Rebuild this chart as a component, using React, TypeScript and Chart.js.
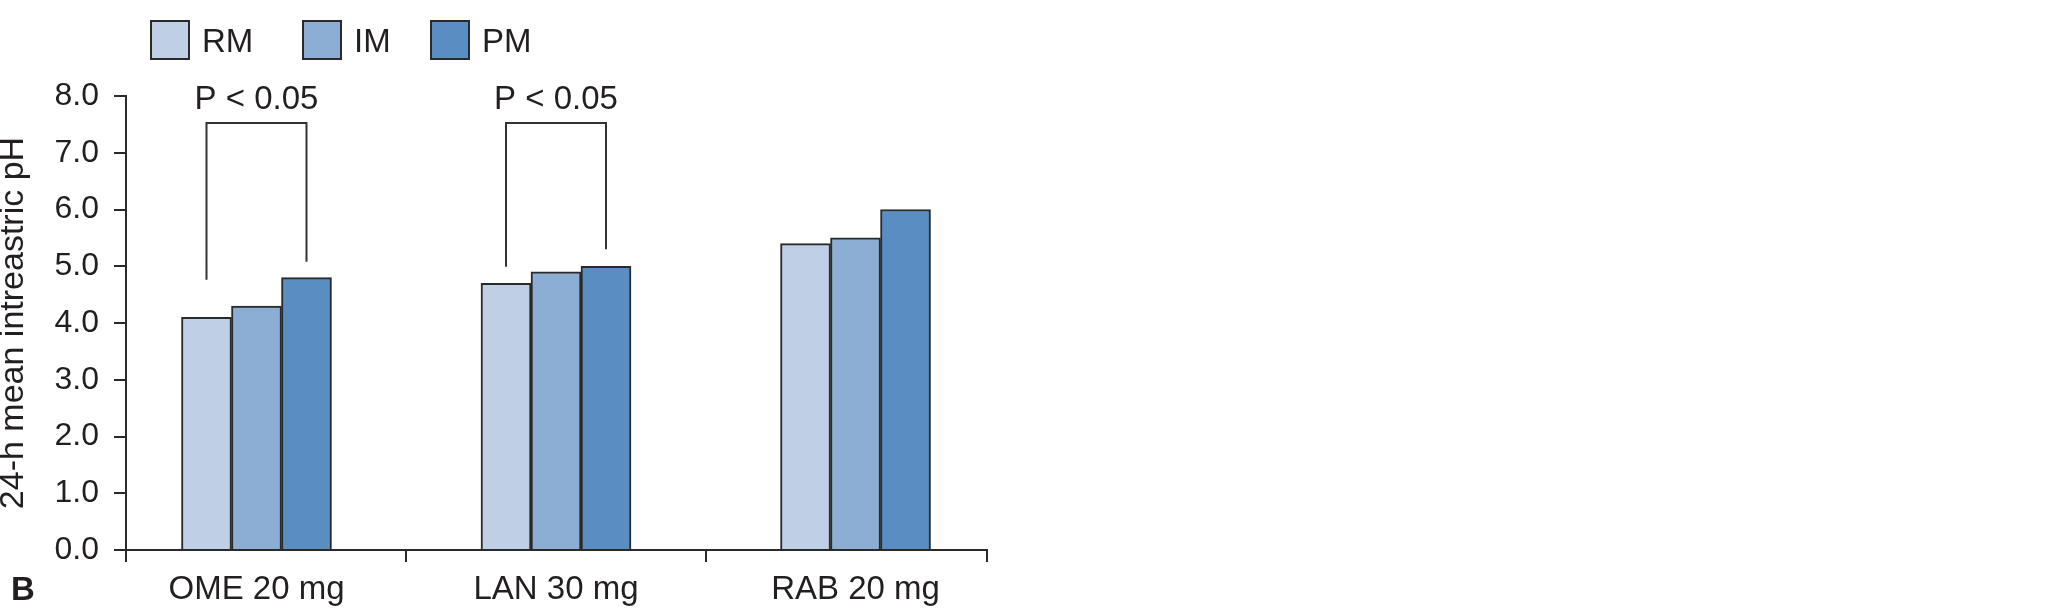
import React, { useEffect, useRef } from 'react';
import { Chart, registerables } from 'chart.js';

Chart.register(...registerables);

// ---- data ----
const categories = ['OME 20 mg', 'LAN 30 mg', 'RAB 20 mg'];
const seriesNames = ['RM', 'IM', 'PM'];
const rmValues = [4.1, 4.7, 5.4];
const imValues = [4.3, 4.9, 5.5];
const pmValues = [4.8, 5.0, 6.0];
const yMin = 0;
const yMax = 8;
const yStep = 1;
const yTitle = '24-h mean intreastric pH';
const panelLetter = 'B';

// significance brackets (in data units)
const bracketGroups = [0, 1];
const bracketLabels = ['P < 0.05', 'P < 0.05'];
const bracketTop = 7.53;
const bracketLeftEnds = [4.76, 4.99];
const bracketRightEnds = [5.08, 5.3];
const bracketTextY = 7.77;

// ---- styles ----
const seriesColors = ['#bfcfe6', '#8daed4', '#5a8ec2'];
const INK = '#231f20';
const FONT = "'Liberation Sans', Arial, Helvetica, sans-serif";
const X_MIN = -0.4357;
const X_MAX = 2.439;

const overlayPlugin = {
  id: 'overlay',
  afterDraw(chart: any) {
    const ctx = chart.ctx as CanvasRenderingContext2D;
    const ys = chart.scales.y;
    ctx.save();
    // brackets
    ctx.strokeStyle = '#333';
    ctx.lineWidth = 2;
    ctx.fillStyle = INK;
    ctx.font = `33px ${FONT}`;
    ctx.textAlign = 'center';
    ctx.textBaseline = 'alphabetic';
    bracketGroups.forEach((g, k) => {
      const xl = chart.getDatasetMeta(0).data[g].x;
      const xr = chart.getDatasetMeta(2).data[g].x;
      const yt = Math.round(ys.getPixelForValue(bracketTop));
      ctx.beginPath();
      ctx.moveTo(xl, ys.getPixelForValue(bracketLeftEnds[k]));
      ctx.lineTo(xl, yt);
      ctx.lineTo(xr, yt);
      ctx.lineTo(xr, ys.getPixelForValue(bracketRightEnds[k]));
      ctx.stroke();
      ctx.fillText(bracketLabels[k], (xl + xr) / 2, ys.getPixelForValue(bracketTextY));
    });

    // legend
    const boxX = [151, 303, 431];
    const boxY = 21;
    const boxS = 38;
    ctx.textAlign = 'left';
    chart.data.datasets.forEach((ds: any, i: number) => {
      ctx.fillStyle = ds.backgroundColor;
      ctx.fillRect(boxX[i], boxY, boxS, boxS);
      ctx.strokeStyle = '#2a2a2a';
      ctx.lineWidth = 2;
      ctx.strokeRect(boxX[i], boxY, boxS, boxS);
      ctx.fillStyle = INK;
      ctx.font = `33px ${FONT}`;
      ctx.fillText(ds.label, boxX[i] + 51, 52);
    });

    // panel letter
    ctx.font = `bold 33px ${FONT}`;
    ctx.fillStyle = INK;
    ctx.fillText(panelLetter, 11, 600);
    ctx.restore();
  },
};

export default function App() {
  const canvasRef = useRef<HTMLCanvasElement | null>(null);

  useEffect(() => {
    const canvas = canvasRef.current;
    if (!canvas) return;
    Chart.defaults.font.family = FONT;
    Chart.defaults.color = INK;

    const seriesValues = [rmValues, imValues, pmValues];
    const chart = new Chart(canvas, {
      type: 'bar',
      data: {
        datasets: seriesNames.map((name, i) => ({
          label: name,
          data: seriesValues[i].map((v, j) => ({ x: j, y: v })),
          backgroundColor: seriesColors[i],
          borderColor: '#2a2a2a',
          borderWidth: 2,
          barThickness: 50,
        })),
      },
      options: {
        responsive: false,
        animation: false,
        devicePixelRatio: 1,
        layout: { padding: { top: 96, right: 1085, bottom: 0, left: 0 } },
        plugins: { legend: { display: false }, tooltip: { enabled: false } },
        scales: {
          x: {
            type: 'linear',
            min: X_MIN,
            max: X_MAX,
            offset: false,
            afterBuildTicks: (scale: any) => {
              scale.ticks = [X_MIN, 0, 0.5, 1, 1.5, 2, X_MAX].map((v) => ({ value: v }));
            },
            afterFit: (scale: any) => {
              scale.height = 59;
            },
            grid: {
              offset: false,
              drawOnChartArea: false,
              drawTicks: true,
              tickLength: 12,
              lineWidth: 2,
              color: (c: any) =>
                c.tick && Number.isInteger(c.tick.value) ? 'rgba(0,0,0,0)' : '#2a2a2a',
            },
            border: { display: true, color: '#2a2a2a', width: 2 },
            ticks: {
              autoSkip: false,
              maxRotation: 0,
              padding: 8,
              color: INK,
              font: { size: 33, family: FONT },
              callback: (v: any) =>
                Number.isInteger(v) && categories[v] !== undefined ? categories[v] : '',
            },
          },
          y: {
            min: yMin,
            max: yMax,
            afterFit: (scale: any) => {
              scale.width = 126;
            },
            ticks: {
              stepSize: yStep,
              padding: 15,
              color: INK,
              font: { size: 32, family: FONT },
              callback: (v: any) => Number(v).toFixed(1),
            },
            grid: {
              drawOnChartArea: false,
              drawTicks: true,
              tickLength: 12,
              lineWidth: 2,
              color: '#2a2a2a',
            },
            border: { display: true, color: '#2a2a2a', width: 2 },
            title: {
              display: true,
              text: yTitle,
              color: INK,
              font: { size: 34, family: FONT, lineHeight: 1 },
              padding: { top: -3, bottom: 0 },
            },
          },
        },
      },
      plugins: [overlayPlugin],
    } as any);
    return () => chart.destroy();
  }, []);

  return (
    <div style={{ position: 'absolute', left: 0, top: 0, width: 2072, height: 609, background: '#fff' }}>
      <canvas ref={canvasRef} width={2072} height={609} style={{ display: 'block' }} />
    </div>
  );
}
